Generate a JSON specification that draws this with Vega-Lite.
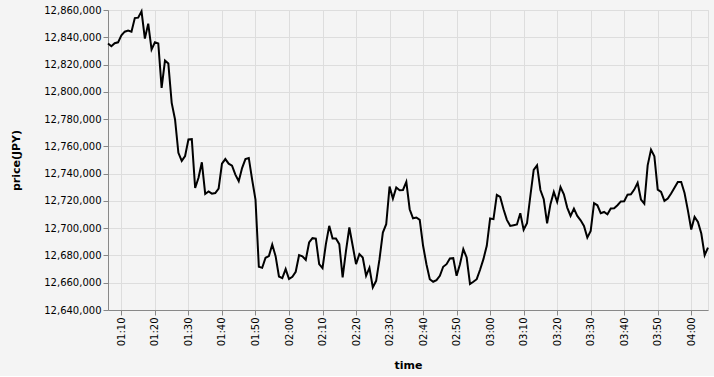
{
  "$schema": "https://vega.github.io/schema/vega-lite/v6.json",
  "width": 600,
  "height": 300,
  "background": "#f4f4f4",
  "padding": {"left": 10, "top": 5, "right": 5, "bottom": 5},
  "data": {
    "values": [
      {"time": "2024-01-01T01:06:00", "price": 12835400},
      {"time": "2024-01-01T01:07:00", "price": 12833400},
      {"time": "2024-01-01T01:08:00", "price": 12835600},
      {"time": "2024-01-01T01:09:00", "price": 12836300},
      {"time": "2024-01-01T01:10:00", "price": 12841500},
      {"time": "2024-01-01T01:11:00", "price": 12844100},
      {"time": "2024-01-01T01:12:00", "price": 12844900},
      {"time": "2024-01-01T01:13:00", "price": 12844100},
      {"time": "2024-01-01T01:14:00", "price": 12854100},
      {"time": "2024-01-01T01:15:00", "price": 12854400},
      {"time": "2024-01-01T01:16:00", "price": 12859000},
      {"time": "2024-01-01T01:17:00", "price": 12839000},
      {"time": "2024-01-01T01:18:00", "price": 12850000},
      {"time": "2024-01-01T01:19:00", "price": 12831000},
      {"time": "2024-01-01T01:20:00", "price": 12836300},
      {"time": "2024-01-01T01:21:00", "price": 12835400},
      {"time": "2024-01-01T01:22:00", "price": 12802900},
      {"time": "2024-01-01T01:23:00", "price": 12822900},
      {"time": "2024-01-01T01:24:00", "price": 12820700},
      {"time": "2024-01-01T01:25:00", "price": 12791900},
      {"time": "2024-01-01T01:26:00", "price": 12779700},
      {"time": "2024-01-01T01:27:00", "price": 12755300},
      {"time": "2024-01-01T01:28:00", "price": 12749400},
      {"time": "2024-01-01T01:29:00", "price": 12752900},
      {"time": "2024-01-01T01:30:00", "price": 12765100},
      {"time": "2024-01-01T01:31:00", "price": 12765300},
      {"time": "2024-01-01T01:32:00", "price": 12729500},
      {"time": "2024-01-01T01:33:00", "price": 12737000},
      {"time": "2024-01-01T01:34:00", "price": 12748300},
      {"time": "2024-01-01T01:35:00", "price": 12725100},
      {"time": "2024-01-01T01:36:00", "price": 12727000},
      {"time": "2024-01-01T01:37:00", "price": 12725300},
      {"time": "2024-01-01T01:38:00", "price": 12725800},
      {"time": "2024-01-01T01:39:00", "price": 12729000},
      {"time": "2024-01-01T01:40:00", "price": 12747300},
      {"time": "2024-01-01T01:41:00", "price": 12750700},
      {"time": "2024-01-01T01:42:00", "price": 12747300},
      {"time": "2024-01-01T01:43:00", "price": 12745800},
      {"time": "2024-01-01T01:44:00", "price": 12739300},
      {"time": "2024-01-01T01:45:00", "price": 12734400},
      {"time": "2024-01-01T01:46:00", "price": 12744100},
      {"time": "2024-01-01T01:47:00", "price": 12750700},
      {"time": "2024-01-01T01:48:00", "price": 12751500},
      {"time": "2024-01-01T01:49:00", "price": 12735600},
      {"time": "2024-01-01T01:50:00", "price": 12721000},
      {"time": "2024-01-01T01:51:00", "price": 12671700},
      {"time": "2024-01-01T01:52:00", "price": 12670900},
      {"time": "2024-01-01T01:53:00", "price": 12678300},
      {"time": "2024-01-01T01:54:00", "price": 12679500},
      {"time": "2024-01-01T01:55:00", "price": 12688000},
      {"time": "2024-01-01T01:56:00", "price": 12679500},
      {"time": "2024-01-01T01:57:00", "price": 12664600},
      {"time": "2024-01-01T01:58:00", "price": 12663400},
      {"time": "2024-01-01T01:59:00", "price": 12670000},
      {"time": "2024-01-01T02:00:00", "price": 12662700},
      {"time": "2024-01-01T02:01:00", "price": 12664400},
      {"time": "2024-01-01T02:02:00", "price": 12668000},
      {"time": "2024-01-01T02:03:00", "price": 12680200},
      {"time": "2024-01-01T02:04:00", "price": 12679300},
      {"time": "2024-01-01T02:05:00", "price": 12676800},
      {"time": "2024-01-01T02:06:00", "price": 12689500},
      {"time": "2024-01-01T02:07:00", "price": 12692700},
      {"time": "2024-01-01T02:08:00", "price": 12692400},
      {"time": "2024-01-01T02:09:00", "price": 12673600},
      {"time": "2024-01-01T02:10:00", "price": 12670700},
      {"time": "2024-01-01T02:11:00", "price": 12688300},
      {"time": "2024-01-01T02:12:00", "price": 12701700},
      {"time": "2024-01-01T02:13:00", "price": 12692400},
      {"time": "2024-01-01T02:14:00", "price": 12692400},
      {"time": "2024-01-01T02:15:00", "price": 12688300},
      {"time": "2024-01-01T02:16:00", "price": 12663900},
      {"time": "2024-01-01T02:17:00", "price": 12683400},
      {"time": "2024-01-01T02:18:00", "price": 12700500},
      {"time": "2024-01-01T02:19:00", "price": 12687100},
      {"time": "2024-01-01T02:20:00", "price": 12673600},
      {"time": "2024-01-01T02:21:00", "price": 12681000},
      {"time": "2024-01-01T02:22:00", "price": 12678500},
      {"time": "2024-01-01T02:23:00", "price": 12665100},
      {"time": "2024-01-01T02:24:00", "price": 12671000},
      {"time": "2024-01-01T02:25:00", "price": 12656600},
      {"time": "2024-01-01T02:26:00", "price": 12661400},
      {"time": "2024-01-01T02:27:00", "price": 12677300},
      {"time": "2024-01-01T02:28:00", "price": 12696800},
      {"time": "2024-01-01T02:29:00", "price": 12702900},
      {"time": "2024-01-01T02:30:00", "price": 12730500},
      {"time": "2024-01-01T02:31:00", "price": 12721700},
      {"time": "2024-01-01T02:32:00", "price": 12729800},
      {"time": "2024-01-01T02:33:00", "price": 12727800},
      {"time": "2024-01-01T02:34:00", "price": 12728000},
      {"time": "2024-01-01T02:35:00", "price": 12733900},
      {"time": "2024-01-01T02:36:00", "price": 12713900},
      {"time": "2024-01-01T02:37:00", "price": 12707300},
      {"time": "2024-01-01T02:38:00", "price": 12707800},
      {"time": "2024-01-01T02:39:00", "price": 12706100},
      {"time": "2024-01-01T02:40:00", "price": 12687100},
      {"time": "2024-01-01T02:41:00", "price": 12673600},
      {"time": "2024-01-01T02:42:00", "price": 12662600},
      {"time": "2024-01-01T02:43:00", "price": 12660700},
      {"time": "2024-01-01T02:44:00", "price": 12661900},
      {"time": "2024-01-01T02:45:00", "price": 12665100},
      {"time": "2024-01-01T02:46:00", "price": 12671700},
      {"time": "2024-01-01T02:47:00", "price": 12673600},
      {"time": "2024-01-01T02:48:00", "price": 12677800},
      {"time": "2024-01-01T02:49:00", "price": 12678000},
      {"time": "2024-01-01T02:50:00", "price": 12665100},
      {"time": "2024-01-01T02:51:00", "price": 12673600},
      {"time": "2024-01-01T02:52:00", "price": 12684600},
      {"time": "2024-01-01T02:53:00", "price": 12678500},
      {"time": "2024-01-01T02:54:00", "price": 12659000},
      {"time": "2024-01-01T02:55:00", "price": 12660700},
      {"time": "2024-01-01T02:56:00", "price": 12662600},
      {"time": "2024-01-01T02:57:00", "price": 12669500},
      {"time": "2024-01-01T02:58:00", "price": 12677300},
      {"time": "2024-01-01T02:59:00", "price": 12687100},
      {"time": "2024-01-01T03:00:00", "price": 12707100},
      {"time": "2024-01-01T03:01:00", "price": 12706600},
      {"time": "2024-01-01T03:02:00", "price": 12724400},
      {"time": "2024-01-01T03:03:00", "price": 12722900},
      {"time": "2024-01-01T03:04:00", "price": 12713900},
      {"time": "2024-01-01T03:05:00", "price": 12706100},
      {"time": "2024-01-01T03:06:00", "price": 12701700},
      {"time": "2024-01-01T03:07:00", "price": 12702200},
      {"time": "2024-01-01T03:08:00", "price": 12702700},
      {"time": "2024-01-01T03:09:00", "price": 12711000},
      {"time": "2024-01-01T03:10:00", "price": 12698800},
      {"time": "2024-01-01T03:11:00", "price": 12703600},
      {"time": "2024-01-01T03:12:00", "price": 12723600},
      {"time": "2024-01-01T03:13:00", "price": 12742700},
      {"time": "2024-01-01T03:14:00", "price": 12746100},
      {"time": "2024-01-01T03:15:00", "price": 12728000},
      {"time": "2024-01-01T03:16:00", "price": 12721200},
      {"time": "2024-01-01T03:17:00", "price": 12703600},
      {"time": "2024-01-01T03:18:00", "price": 12717600},
      {"time": "2024-01-01T03:19:00", "price": 12726600},
      {"time": "2024-01-01T03:20:00", "price": 12719300},
      {"time": "2024-01-01T03:21:00", "price": 12730200},
      {"time": "2024-01-01T03:22:00", "price": 12724900},
      {"time": "2024-01-01T03:23:00", "price": 12715100},
      {"time": "2024-01-01T03:24:00", "price": 12709000},
      {"time": "2024-01-01T03:25:00", "price": 12714400},
      {"time": "2024-01-01T03:26:00", "price": 12709000},
      {"time": "2024-01-01T03:27:00", "price": 12705800},
      {"time": "2024-01-01T03:28:00", "price": 12701700},
      {"time": "2024-01-01T03:29:00", "price": 12693100},
      {"time": "2024-01-01T03:30:00", "price": 12698000},
      {"time": "2024-01-01T03:31:00", "price": 12718300},
      {"time": "2024-01-01T03:32:00", "price": 12716800},
      {"time": "2024-01-01T03:33:00", "price": 12711000},
      {"time": "2024-01-01T03:34:00", "price": 12711900},
      {"time": "2024-01-01T03:35:00", "price": 12710200},
      {"time": "2024-01-01T03:36:00", "price": 12714400},
      {"time": "2024-01-01T03:37:00", "price": 12714600},
      {"time": "2024-01-01T03:38:00", "price": 12716800},
      {"time": "2024-01-01T03:39:00", "price": 12719600},
      {"time": "2024-01-01T03:40:00", "price": 12719700},
      {"time": "2024-01-01T03:41:00", "price": 12724600},
      {"time": "2024-01-01T03:42:00", "price": 12724900},
      {"time": "2024-01-01T03:43:00", "price": 12728300},
      {"time": "2024-01-01T03:44:00", "price": 12733200},
      {"time": "2024-01-01T03:45:00", "price": 12721000},
      {"time": "2024-01-01T03:46:00", "price": 12718000},
      {"time": "2024-01-01T03:47:00", "price": 12746100},
      {"time": "2024-01-01T03:48:00", "price": 12757600},
      {"time": "2024-01-01T03:49:00", "price": 12752700},
      {"time": "2024-01-01T03:50:00", "price": 12728300},
      {"time": "2024-01-01T03:51:00", "price": 12726600},
      {"time": "2024-01-01T03:52:00", "price": 12720000},
      {"time": "2024-01-01T03:53:00", "price": 12721700},
      {"time": "2024-01-01T03:54:00", "price": 12725400},
      {"time": "2024-01-01T03:55:00", "price": 12729700},
      {"time": "2024-01-01T03:56:00", "price": 12733900},
      {"time": "2024-01-01T03:57:00", "price": 12733900},
      {"time": "2024-01-01T03:58:00", "price": 12725800},
      {"time": "2024-01-01T03:59:00", "price": 12713100},
      {"time": "2024-01-01T04:00:00", "price": 12699000},
      {"time": "2024-01-01T04:01:00", "price": 12708300},
      {"time": "2024-01-01T04:02:00", "price": 12704600},
      {"time": "2024-01-01T04:03:00", "price": 12696100},
      {"time": "2024-01-01T04:04:00", "price": 12680200},
      {"time": "2024-01-01T04:05:00", "price": 12685800}
    ]
  },
  "mark": {"type": "line", "color": "#000000", "strokeWidth": 2},
  "encoding": {
    "x": {
      "field": "time",
      "type": "temporal",
      "title": "time",
      "axis": {
        "format": "%H:%M",
        "labelAngle": -90,
        "titlePadding": 14,
        "values": [
          {"year": 2024, "month": 1, "date": 1, "hours": 1, "minutes": 10},
          {"year": 2024, "month": 1, "date": 1, "hours": 1, "minutes": 20},
          {"year": 2024, "month": 1, "date": 1, "hours": 1, "minutes": 30},
          {"year": 2024, "month": 1, "date": 1, "hours": 1, "minutes": 40},
          {"year": 2024, "month": 1, "date": 1, "hours": 1, "minutes": 50},
          {"year": 2024, "month": 1, "date": 1, "hours": 2, "minutes": 0},
          {"year": 2024, "month": 1, "date": 1, "hours": 2, "minutes": 10},
          {"year": 2024, "month": 1, "date": 1, "hours": 2, "minutes": 20},
          {"year": 2024, "month": 1, "date": 1, "hours": 2, "minutes": 30},
          {"year": 2024, "month": 1, "date": 1, "hours": 2, "minutes": 40},
          {"year": 2024, "month": 1, "date": 1, "hours": 2, "minutes": 50},
          {"year": 2024, "month": 1, "date": 1, "hours": 3, "minutes": 0},
          {"year": 2024, "month": 1, "date": 1, "hours": 3, "minutes": 10},
          {"year": 2024, "month": 1, "date": 1, "hours": 3, "minutes": 20},
          {"year": 2024, "month": 1, "date": 1, "hours": 3, "minutes": 30},
          {"year": 2024, "month": 1, "date": 1, "hours": 3, "minutes": 40},
          {"year": 2024, "month": 1, "date": 1, "hours": 3, "minutes": 50},
          {"year": 2024, "month": 1, "date": 1, "hours": 4, "minutes": 0}
        ],
        "gridColor": "#dddddd"
      }
    },
    "y": {
      "field": "price",
      "type": "quantitative",
      "title": "price(JPY)",
      "scale": {"domain": [12640000, 12860000], "zero": false},
      "axis": {
        "tickCount": 12,
        "gridColor": "#dddddd",
        "titlePadding": 22
      }
    }
  },
  "config": {"font": "DejaVu Sans"}
}
